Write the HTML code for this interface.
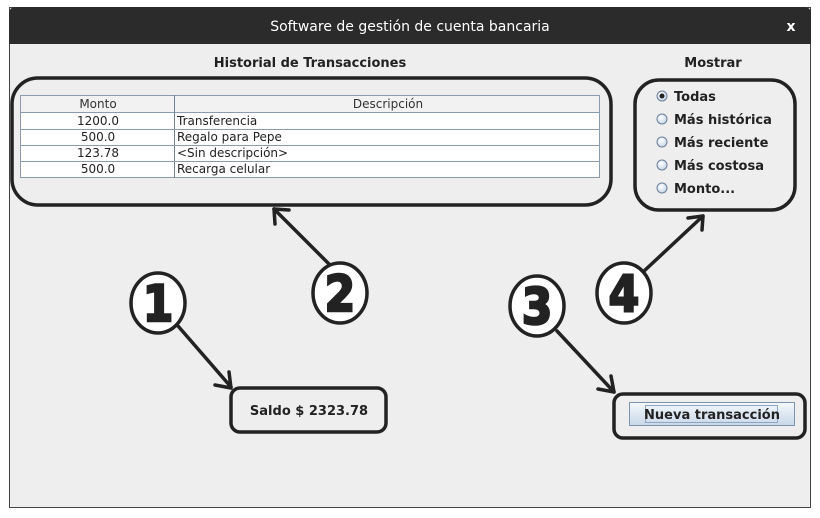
<!DOCTYPE html>
<html><head><meta charset="utf-8"><style>
html,body{margin:0;padding:0;background:#fff;}
svg{display:block;font-family:"DejaVu Sans","Liberation Sans",sans-serif;}
</style></head><body>
<svg width="820" height="518" viewBox="0 0 820 518" xmlns="http://www.w3.org/2000/svg">
<defs>
<linearGradient id="btn" x1="0" y1="0" x2="0" y2="1"><stop offset="0" stop-color="#f4f8fc"/><stop offset="1" stop-color="#c8d8e8"/></linearGradient>
<radialGradient id="rad" cx="0.4" cy="0.35" r="0.7"><stop offset="0" stop-color="#ffffff"/><stop offset="1" stop-color="#c4d4e6"/></radialGradient>
</defs>
<rect x="9.5" y="7.5" width="801" height="500" fill="#eeeeee" stroke="#444" stroke-width="1"/>
<path d="M9 44 V14 Q9 7 16 7 H804 Q811 7 811 14 V44 Z" fill="#2b2b2b"/>
<text x="410" y="31" fill="#fff" font-size="14" text-anchor="middle">Software de gestión de cuenta bancaria</text>
<text x="791" y="31" fill="#fff" font-size="14" font-weight="bold" text-anchor="middle">x</text>
<text x="310" y="67" fill="#222" font-size="13" font-weight="bold" text-anchor="middle">Historial de Transacciones</text>
<text x="713" y="67" fill="#222" font-size="13" font-weight="bold" text-anchor="middle">Mostrar</text>
<g font-size="12" fill="#222">
<rect x="20.5" y="95.5" width="579" height="82" fill="#fff" stroke="#8a9bb0"/>
<rect x="20.5" y="95.5" width="579" height="17" fill="#f2f2f2" stroke="#8a9bb0"/>
<line x1="174.5" y1="95" x2="174.5" y2="178" stroke="#6e7f96"/>
<line x1="20" y1="129.5" x2="600" y2="129.5" stroke="#8a9bb0"/>
<line x1="20" y1="145.5" x2="600" y2="145.5" stroke="#8a9bb0"/>
<line x1="20" y1="161.5" x2="600" y2="161.5" stroke="#8a9bb0"/>
<text x="98" y="108" text-anchor="middle" fill="#333">Monto</text>
<text x="388" y="108" text-anchor="middle" fill="#333">Descripción</text>
<text x="98" y="125" text-anchor="middle">1200.0</text><text x="177" y="125">Transferencia</text>
<text x="98" y="141" text-anchor="middle">500.0</text><text x="177" y="141">Regalo para Pepe</text>
<text x="98" y="157" text-anchor="middle">123.78</text><text x="177" y="157">&lt;Sin descripción&gt;</text>
<text x="98" y="173" text-anchor="middle">500.0</text><text x="177" y="173">Recarga celular</text>
</g>
<g font-size="13" font-weight="bold" fill="#222">
<circle cx="662" cy="96" r="5" fill="url(#rad)" stroke="#6b7f99"/><circle cx="662" cy="96" r="2.5" fill="#222"/>
<text x="674" y="101">Todas</text>
<circle cx="662" cy="119" r="5" fill="url(#rad)" stroke="#6b7f99"/><text x="674" y="124">Más histórica</text>
<circle cx="662" cy="142" r="5" fill="url(#rad)" stroke="#6b7f99"/><text x="674" y="147">Más reciente</text>
<circle cx="662" cy="165" r="5" fill="url(#rad)" stroke="#6b7f99"/><text x="674" y="170">Más costosa</text>
<circle cx="662" cy="188" r="5" fill="url(#rad)" stroke="#6b7f99"/><text x="674" y="193">Monto...</text>
</g>
<g fill="none" stroke="#222" stroke-width="3.5" stroke-linejoin="round" stroke-linecap="round">
<rect x="12" y="78" width="599" height="127" rx="26"/>
<rect x="635" y="80" width="160" height="130" rx="24"/>
<rect x="231" y="388" width="155" height="44" rx="9"/>
<rect x="614" y="394" width="191" height="44" rx="9"/>
<line x1="178" y1="326" x2="231" y2="387"/><polyline points="215,385 231,388 229,372"/>
<line x1="330" y1="265" x2="274" y2="209"/><polyline points="275,224 274,209 289,210"/>
<line x1="643" y1="272" x2="703" y2="216"/><polyline points="688,218 703,216 702,230"/>
<line x1="557" y1="331" x2="614" y2="392"/><polyline points="598,389 614,392 611,376"/>
</g>
<g stroke="#222" stroke-width="3.5" fill="#fff">
<ellipse cx="158" cy="303" rx="27" ry="30"/>
<ellipse cx="340" cy="293" rx="27" ry="30"/>
<ellipse cx="537" cy="306" rx="27" ry="30"/>
<ellipse cx="624" cy="293" rx="27" ry="30"/>
</g>
<g font-family="'DejaVu Sans','Liberation Sans',sans-serif" font-weight="bold" font-size="50" fill="#222" stroke="#222" stroke-width="2.5" text-anchor="middle">
<text x="158" y="321" transform="translate(158 0) scale(0.88 1) translate(-158 0)">1</text>
<text x="340" y="311" transform="translate(340 0) scale(0.88 1) translate(-340 0)">2</text>
<text x="537" y="324" transform="translate(537 0) scale(0.88 1) translate(-537 0)">3</text>
<text x="624" y="311" transform="translate(624 0) scale(0.88 1) translate(-624 0)">4</text>
</g>
<text x="309" y="415" font-size="13" font-weight="bold" fill="#222" text-anchor="middle">Saldo $ 2323.78</text>
<rect x="629.5" y="402.5" width="165" height="23" fill="url(#btn)" stroke="#7d93ad"/>
<rect x="645.5" y="405.5" width="132" height="17" fill="none" stroke="#8fa7c4"/>
<text x="712" y="419" font-size="13" font-weight="bold" fill="#222" text-anchor="middle">Nueva transacción</text>
</svg>
</body></html>
